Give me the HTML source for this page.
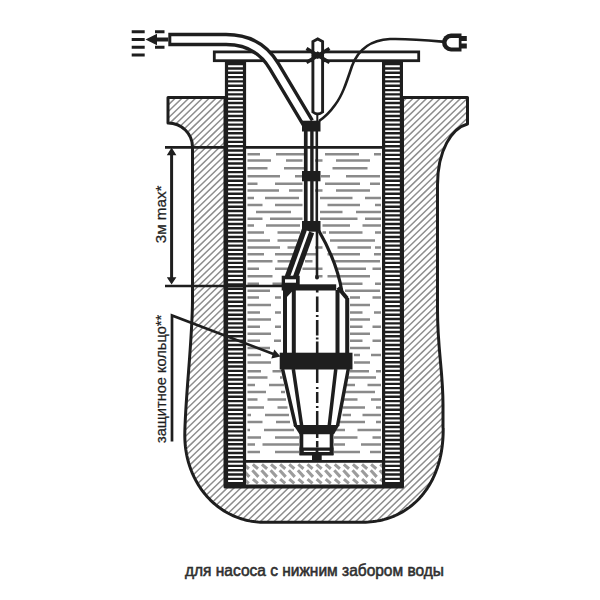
<!DOCTYPE html><html><head><meta charset="utf-8"><style>html,body{margin:0;padding:0;background:#fff;width:600px;height:600px;overflow:hidden}svg{display:block}</style></head><body>
<svg width="600" height="600" viewBox="0 0 600 600">
<rect width="600" height="600" fill="#fff"/>
<defs>
<clipPath id="shc"><path d="M168,97.5 L225,97.5 L225,487 L402.5,487 L402.5,97.5 L467.5,97.5 L467.5,124 C452,128 437.5,150 437.5,185 L437.5,310 C437.5,350 443,370 443,405 L443,428 L443.20,428.00 L443.17,431.44 L443.10,434.45 L442.97,437.32 L442.79,440.10 L442.55,442.81 L442.27,445.46 L441.93,448.06 L441.55,450.62 L441.11,453.13 L440.62,455.60 L440.08,458.03 L439.49,460.42 L438.85,462.78 L438.16,465.10 L437.42,467.38 L436.63,469.62 L435.80,471.83 L434.91,474.00 L433.98,476.13 L433.00,478.22 L431.98,480.27 L430.90,482.28 L429.78,484.24 L428.62,486.17 L427.41,488.06 L426.16,489.90 L424.86,491.69 L423.52,493.45 L422.14,495.15 L420.71,496.81 L419.25,498.43 L417.74,500.00 L416.20,501.51 L414.61,502.98 L412.99,504.40 L411.32,505.77 L409.62,507.09 L407.89,508.36 L406.11,509.58 L404.31,510.74 L402.46,511.85 L400.58,512.91 L398.67,513.91 L396.72,514.86 L394.74,515.75 L392.73,516.59 L390.69,517.37 L388.61,518.09 L386.49,518.76 L384.35,519.37 L382.17,519.93 L379.95,520.42 L377.70,520.86 L375.41,521.24 L373.07,521.57 L370.68,521.83 L368.23,522.04 L365.69,522.18 L363.03,522.27 L360.00,522.30 L264.8,522.3 L264.80,522.30 L262.51,522.27 L260.30,522.18 L258.12,522.04 L255.96,521.83 L253.83,521.57 L251.71,521.25 L249.60,520.87 L247.52,520.44 L245.45,519.95 L243.40,519.40 L241.37,518.79 L239.36,518.13 L237.37,517.41 L235.40,516.64 L233.46,515.81 L231.54,514.93 L229.64,513.99 L227.77,513.00 L225.93,511.96 L224.12,510.87 L222.33,509.73 L220.58,508.53 L218.85,507.29 L217.16,505.99 L215.51,504.65 L213.88,503.26 L212.29,501.83 L210.74,500.35 L209.23,498.82 L207.75,497.25 L206.31,495.64 L204.92,493.99 L203.56,492.30 L202.24,490.56 L200.97,488.79 L199.74,486.98 L198.56,485.14 L197.42,483.26 L196.32,481.34 L195.27,479.39 L194.27,477.41 L193.32,475.40 L192.41,473.36 L191.56,471.30 L190.75,469.20 L189.99,467.08 L189.28,464.93 L188.62,462.76 L188.02,460.57 L187.46,458.35 L186.96,456.12 L186.51,453.86 L186.11,451.58 L185.76,449.29 L185.47,446.98 L185.23,444.64 L185.04,442.29 L184.91,439.91 L184.83,437.50 L184.80,435.00 C185,400 192.5,340 192.5,300 L192.5,147 A24.5,24 0 0 0 168,123 Z"/></clipPath>
<clipPath id="grc"><rect x="246" y="462.5" width="136" height="22.5"/></clipPath>
</defs>
<g clip-path="url(#shc)"><path d="M-800.0,600 L-178.7,0 M-793.2,600 L-171.9,0 M-786.4,600 L-165.1,0 M-779.6,600 L-158.3,0 M-772.8,600 L-151.5,0 M-766.0,600 L-144.7,0 M-759.2,600 L-137.9,0 M-752.4,600 L-131.1,0 M-745.6,600 L-124.3,0 M-738.8,600 L-117.5,0 M-732.0,600 L-110.7,0 M-725.2,600 L-103.9,0 M-718.4,600 L-97.1,0 M-711.6,600 L-90.3,0 M-704.8,600 L-83.5,0 M-698.0,600 L-76.7,0 M-691.2,600 L-69.9,0 M-684.4,600 L-63.1,0 M-677.6,600 L-56.3,0 M-670.8,600 L-49.5,0 M-664.0,600 L-42.7,0 M-657.2,600 L-35.9,0 M-650.4,600 L-29.1,0 M-643.6,600 L-22.3,0 M-636.8,600 L-15.5,0 M-630.0,600 L-8.7,0 M-623.2,600 L-1.9,0 M-616.4,600 L4.9,0 M-609.6,600 L11.7,0 M-602.8,600 L18.5,0 M-596.0,600 L25.3,0 M-589.2,600 L32.1,0 M-582.4,600 L38.9,0 M-575.6,600 L45.7,0 M-568.8,600 L52.5,0 M-562.0,600 L59.3,0 M-555.2,600 L66.1,0 M-548.4,600 L72.9,0 M-541.6,600 L79.7,0 M-534.8,600 L86.5,0 M-528.0,600 L93.3,0 M-521.2,600 L100.1,0 M-514.4,600 L106.9,0 M-507.6,600 L113.7,0 M-500.8,600 L120.5,0 M-494.0,600 L127.3,0 M-487.2,600 L134.1,0 M-480.4,600 L140.9,0 M-473.6,600 L147.7,0 M-466.8,600 L154.5,0 M-460.0,600 L161.3,0 M-453.2,600 L168.1,0 M-446.4,600 L174.9,0 M-439.6,600 L181.7,0 M-432.8,600 L188.5,0 M-426.0,600 L195.3,0 M-419.2,600 L202.1,0 M-412.4,600 L208.9,0 M-405.6,600 L215.7,0 M-398.8,600 L222.5,0 M-392.0,600 L229.3,0 M-385.2,600 L236.1,0 M-378.4,600 L242.9,0 M-371.6,600 L249.7,0 M-364.8,600 L256.5,0 M-358.0,600 L263.3,0 M-351.2,600 L270.1,0 M-344.4,600 L276.9,0 M-337.6,600 L283.7,0 M-330.8,600 L290.5,0 M-324.0,600 L297.3,0 M-317.2,600 L304.1,0 M-310.4,600 L310.9,0 M-303.6,600 L317.7,0 M-296.8,600 L324.5,0 M-290.0,600 L331.3,0 M-283.2,600 L338.1,0 M-276.4,600 L344.9,0 M-269.6,600 L351.7,0 M-262.8,600 L358.5,0 M-256.0,600 L365.3,0 M-249.2,600 L372.1,0 M-242.4,600 L378.9,0 M-235.6,600 L385.7,0 M-228.8,600 L392.5,0 M-222.0,600 L399.3,0 M-215.2,600 L406.1,0 M-208.4,600 L412.9,0 M-201.6,600 L419.7,0 M-194.8,600 L426.5,0 M-188.0,600 L433.3,0 M-181.2,600 L440.1,0 M-174.4,600 L446.9,0 M-167.6,600 L453.7,0 M-160.8,600 L460.5,0 M-154.0,600 L467.3,0 M-147.2,600 L474.1,0 M-140.4,600 L480.9,0 M-133.6,600 L487.7,0 M-126.8,600 L494.5,0 M-120.0,600 L501.3,0 M-113.2,600 L508.1,0 M-106.4,600 L514.9,0 M-99.6,600 L521.7,0 M-92.8,600 L528.5,0 M-86.0,600 L535.3,0 M-79.2,600 L542.1,0 M-72.4,600 L548.9,0 M-65.6,600 L555.7,0 M-58.8,600 L562.5,0 M-52.0,600 L569.3,0 M-45.2,600 L576.1,0 M-38.4,600 L582.9,0 M-31.6,600 L589.7,0 M-24.8,600 L596.5,0 M-18.0,600 L603.3,0 M-11.2,600 L610.1,0 M-4.4,600 L616.9,0 M2.4,600 L623.7,0 M9.2,600 L630.5,0 M16.0,600 L637.3,0 M22.8,600 L644.1,0 M29.6,600 L650.9,0 M36.4,600 L657.7,0 M43.2,600 L664.5,0 M50.0,600 L671.3,0 M56.8,600 L678.1,0 M63.6,600 L684.9,0 M70.4,600 L691.7,0 M77.2,600 L698.5,0 M84.0,600 L705.3,0 M90.8,600 L712.1,0 M97.6,600 L718.9,0 M104.4,600 L725.7,0 M111.2,600 L732.5,0 M118.0,600 L739.3,0 M124.8,600 L746.1,0 M131.6,600 L752.9,0 M138.4,600 L759.7,0 M145.2,600 L766.5,0 M152.0,600 L773.3,0 M158.8,600 L780.1,0 M165.6,600 L786.9,0 M172.4,600 L793.7,0 M179.2,600 L800.5,0 M186.0,600 L807.3,0 M192.8,600 L814.1,0 M199.6,600 L820.9,0 M206.4,600 L827.7,0 M213.2,600 L834.5,0 M220.0,600 L841.3,0 M226.8,600 L848.1,0 M233.6,600 L854.9,0 M240.4,600 L861.7,0 M247.2,600 L868.5,0 M254.0,600 L875.3,0 M260.8,600 L882.1,0 M267.6,600 L888.9,0 M274.4,600 L895.7,0 M281.2,600 L902.5,0 M288.0,600 L909.3,0 M294.8,600 L916.1,0 M301.6,600 L922.9,0 M308.4,600 L929.7,0 M315.2,600 L936.5,0 M322.0,600 L943.3,0 M328.8,600 L950.1,0 M335.6,600 L956.9,0 M342.4,600 L963.7,0 M349.2,600 L970.5,0 M356.0,600 L977.3,0 M362.8,600 L984.1,0 M369.6,600 L990.9,0 M376.4,600 L997.7,0 M383.2,600 L1004.5,0 M390.0,600 L1011.3,0 M396.8,600 L1018.1,0 M403.6,600 L1024.9,0 M410.4,600 L1031.7,0 M417.2,600 L1038.5,0 M424.0,600 L1045.3,0 M430.8,600 L1052.1,0 M437.6,600 L1058.9,0 M444.4,600 L1065.7,0 M451.2,600 L1072.5,0 M458.0,600 L1079.3,0 M464.8,600 L1086.1,0 M471.6,600 L1092.9,0 M478.4,600 L1099.7,0 M485.2,600 L1106.5,0 M492.0,600 L1113.3,0 M498.8,600 L1120.1,0 M505.6,600 L1126.9,0 M512.4,600 L1133.7,0 M519.2,600 L1140.5,0 M526.0,600 L1147.3,0 M532.8,600 L1154.1,0 M539.6,600 L1160.9,0 M546.4,600 L1167.7,0 M553.2,600 L1174.5,0 M560.0,600 L1181.3,0 M566.8,600 L1188.1,0 M573.6,600 L1194.9,0 M580.4,600 L1201.7,0 M587.2,600 L1208.5,0 M594.0,600 L1215.3,0 M600.8,600 L1222.1,0 M607.6,600 L1228.9,0 M614.4,600 L1235.7,0 M621.2,600 L1242.5,0 M628.0,600 L1249.3,0 M634.8,600 L1256.1,0 M641.6,600 L1262.9,0 M648.4,600 L1269.7,0 M655.2,600 L1276.5,0 M662.0,600 L1283.3,0 M668.8,600 L1290.1,0 M675.6,600 L1296.9,0 M682.4,600 L1303.7,0 M689.2,600 L1310.5,0 M696.0,600 L1317.3,0 M702.8,600 L1324.1,0 M709.6,600 L1330.9,0 M716.4,600 L1337.7,0 M723.2,600 L1344.5,0 M730.0,600 L1351.3,0 M736.8,600 L1358.1,0 M743.6,600 L1364.9,0 M750.4,600 L1371.7,0 M757.2,600 L1378.5,0 M764.0,600 L1385.3,0 M770.8,600 L1392.1,0 M777.6,600 L1398.9,0 M784.4,600 L1405.7,0 M791.2,600 L1412.5,0 M798.0,600 L1419.3,0 M804.8,600 L1426.1,0 M811.6,600 L1432.9,0 M818.4,600 L1439.7,0 M825.2,600 L1446.5,0 M832.0,600 L1453.3,0 M838.8,600 L1460.1,0 M845.6,600 L1466.9,0 M852.4,600 L1473.7,0 M859.2,600 L1480.5,0 M866.0,600 L1487.3,0 M872.8,600 L1494.1,0 M879.6,600 L1500.9,0 M886.4,600 L1507.7,0 M893.2,600 L1514.5,0 M900.0,600 L1521.3,0 M906.8,600 L1528.1,0 M913.6,600 L1534.9,0 M920.4,600 L1541.7,0 M927.2,600 L1548.5,0 M934.0,600 L1555.3,0 M940.8,600 L1562.1,0 M947.6,600 L1568.9,0 M954.4,600 L1575.7,0 M961.2,600 L1582.5,0 M968.0,600 L1589.3,0 M974.8,600 L1596.1,0 M981.6,600 L1602.9,0 M988.4,600 L1609.7,0 M995.2,600 L1616.5,0 M1002.0,600 L1623.3,0 M1008.8,600 L1630.1,0 M1015.6,600 L1636.9,0 M1022.4,600 L1643.7,0 M1029.2,600 L1650.5,0 M1036.0,600 L1657.3,0 M1042.8,600 L1664.1,0 M1049.6,600 L1670.9,0 M1056.4,600 L1677.7,0 M1063.2,600 L1684.5,0 M1070.0,600 L1691.3,0 M1076.8,600 L1698.1,0 M1083.6,600 L1704.9,0 M1090.4,600 L1711.7,0 M1097.2,600 L1718.5,0" stroke="#8e8e8e" stroke-width="1.5"/></g>
<path d="M168,97.5 L225,97.5 L225,487 L402.5,487 L402.5,97.5 L467.5,97.5 L467.5,124 C452,128 437.5,150 437.5,185 L437.5,310 C437.5,350 443,370 443,405 L443,428 L443.20,428.00 L443.17,431.44 L443.10,434.45 L442.97,437.32 L442.79,440.10 L442.55,442.81 L442.27,445.46 L441.93,448.06 L441.55,450.62 L441.11,453.13 L440.62,455.60 L440.08,458.03 L439.49,460.42 L438.85,462.78 L438.16,465.10 L437.42,467.38 L436.63,469.62 L435.80,471.83 L434.91,474.00 L433.98,476.13 L433.00,478.22 L431.98,480.27 L430.90,482.28 L429.78,484.24 L428.62,486.17 L427.41,488.06 L426.16,489.90 L424.86,491.69 L423.52,493.45 L422.14,495.15 L420.71,496.81 L419.25,498.43 L417.74,500.00 L416.20,501.51 L414.61,502.98 L412.99,504.40 L411.32,505.77 L409.62,507.09 L407.89,508.36 L406.11,509.58 L404.31,510.74 L402.46,511.85 L400.58,512.91 L398.67,513.91 L396.72,514.86 L394.74,515.75 L392.73,516.59 L390.69,517.37 L388.61,518.09 L386.49,518.76 L384.35,519.37 L382.17,519.93 L379.95,520.42 L377.70,520.86 L375.41,521.24 L373.07,521.57 L370.68,521.83 L368.23,522.04 L365.69,522.18 L363.03,522.27 L360.00,522.30 L264.8,522.3 L264.80,522.30 L262.51,522.27 L260.30,522.18 L258.12,522.04 L255.96,521.83 L253.83,521.57 L251.71,521.25 L249.60,520.87 L247.52,520.44 L245.45,519.95 L243.40,519.40 L241.37,518.79 L239.36,518.13 L237.37,517.41 L235.40,516.64 L233.46,515.81 L231.54,514.93 L229.64,513.99 L227.77,513.00 L225.93,511.96 L224.12,510.87 L222.33,509.73 L220.58,508.53 L218.85,507.29 L217.16,505.99 L215.51,504.65 L213.88,503.26 L212.29,501.83 L210.74,500.35 L209.23,498.82 L207.75,497.25 L206.31,495.64 L204.92,493.99 L203.56,492.30 L202.24,490.56 L200.97,488.79 L199.74,486.98 L198.56,485.14 L197.42,483.26 L196.32,481.34 L195.27,479.39 L194.27,477.41 L193.32,475.40 L192.41,473.36 L191.56,471.30 L190.75,469.20 L189.99,467.08 L189.28,464.93 L188.62,462.76 L188.02,460.57 L187.46,458.35 L186.96,456.12 L186.51,453.86 L186.11,451.58 L185.76,449.29 L185.47,446.98 L185.23,444.64 L185.04,442.29 L184.91,439.91 L184.83,437.50 L184.80,435.00 C185,400 192.5,340 192.5,300 L192.5,147 A24.5,24 0 0 0 168,123 Z" fill="none" stroke="#1e1e1e" stroke-width="3" stroke-linejoin="round"/>
<path d="M247.5,154.3 H260 M276,154.3 H304 M325,154.3 H359 M374,154.3 H381 M247.5,160.5 H271 M286,160.5 H302.5 M315,160.5 H322.5 M336,160.5 H370 M247.5,168.3 H267.5 M284,168.3 H304 M332.5,168.3 H367.5 M247.5,176.3 H280 M295,176.3 H302.5 M321,176.3 H330 M346,176.3 H380 M247.5,183.8 H257.5 M275,183.8 H302.5 M325,183.8 H360 M370,183.8 H380 M247.5,190.5 H279 M289,190.5 H302.5 M315,190.5 H322.5 M336,190.5 H370 M247.5,198 H254 M265,198 H299 M320,198 H352.5 M365,198 H381 M247.5,205 H262.5 M275,205 H302.5 M327.5,205 H360 M375,205 H381 M256,212 H291 M320,212 H342.5 M356,212 H381 M247.5,218.8 H262.5 M270,218.8 H302.5 M320,218.8 H357.5 M365,218.8 H381 M247.5,225.5 H254 M266,225.5 H300 M322.5,225.5 H350 M362.5,225.5 H381 M247.5,232.5 H264 M277.5,232.5 H300 M322.5,232.5 H326 M329,232.5 H362.5 M375,232.5 H381 M247.5,240.5 H270 M277.5,240.5 H297.5 M330,240.5 H375 M247.5,247.5 H280 M287.5,247.5 H296 M315,247.5 H322.5 M337.5,247.5 H371 M375,247.5 H381 M247.5,254.3 H264 M275,254.3 H294 M304,254.3 H317.5 M327.5,254.3 H360 M374,254.3 H381 M247.5,261.3 H272.5 M277.5,261.3 H294 M305,261.3 H312.5 M335,261.3 H380 M247.5,268.8 H259 M275,268.8 H290 M302.5,268.8 H322.5 M336,268.8 H366 M372.5,268.8 H381 M247.5,276.3 H272.5 M315,276.3 H322.5 M327.5,276.3 H370 M247.5,283.8 H259 M272.5,283.8 H282.5 M339,283.8 H362.5 M375,283.8 H381 M247.5,290.8 H270 M345,290.8 H380 M247.5,297.5 H259 M275,297.5 H281 M350,297.5 H360 M372.5,297.5 H381 M247.5,305 H271 M350,305 H370 M247.5,312.5 H260 M275,312.5 H281 M350,312.5 H362.5 M374,312.5 H381 M247.5,319.5 H271 M350,319.5 H370 M247.5,326.75 H260 M275,326.75 H281 M350,326.75 H362.5 M372.5,326.75 H381 M247.5,333.75 H271 M350,333.75 H370 M247.5,340.75 H260 M274,340.75 H281 M350,340.75 H362.5 M372.5,340.75 H381 M247.5,348 H270 M350,348 H370 M247.5,355 H261 M354,355 H360 M371,355 H381 M247.5,362.5 H271 M354,362.5 H370 M247.5,371.25 H261 M272.5,371.25 H281 M350,371.25 H369 M376,371.25 H381 M247.5,377.5 H267.5 M280,377.5 H282.5 M347.5,377.5 H376 M247.5,385 H255 M269,385 H284 M346,385 H355 M367.5,385 H381 M247.5,392 H266 M281,392 H285 M345,392 H375 M247.5,399.5 H257.5 M267.5,399.5 H286 M344,399.5 H357.5 M371,399.5 H381 M247.5,407.5 H264 M277.5,407.5 H287.5 M342.5,407.5 H365 M376,407.5 H381 M247.5,415 H251 M265,415 H289 M342.5,415 H351 M362.5,415 H381 M247.5,422 H262.5 M276,422 H290 M340,422 H365 M376,422 H381 M247.5,430 H250 M264,430 H294 M336,430 H345 M357.5,430 H381 M247.5,437.5 H261 M275,437.5 H299 M331,437.5 H357.5 M372.5,437.5 H381 M247.5,444.5 H255 M262.5,444.5 H299 M331,444.5 H345 M361,444.5 H381 M247.5,452 H260 M275,452 H299 M331,452 H360 M370,452 H381" stroke="#8a8a8a" stroke-width="2.6"/>
<rect x="224.9" y="62" width="21.2" height="425.5" fill="#1e1e1e"/>
<path d="M228.1,66.30 H242.9 M228.1,70.62 H242.9 M228.1,74.94 H242.9 M228.1,79.26 H242.9 M228.1,83.58 H242.9 M228.1,87.90 H242.9 M228.1,92.22 H242.9 M228.1,96.54 H242.9 M228.1,100.86 H242.9 M228.1,105.18 H242.9 M228.1,109.50 H242.9 M228.1,113.82 H242.9 M228.1,118.14 H242.9 M228.1,122.46 H242.9 M228.1,126.78 H242.9 M228.1,131.10 H242.9 M228.1,135.42 H242.9 M228.1,139.74 H242.9 M228.1,144.06 H242.9 M228.1,148.38 H242.9 M228.1,152.70 H242.9 M228.1,157.02 H242.9 M228.1,161.34 H242.9 M228.1,165.66 H242.9 M228.1,169.98 H242.9 M228.1,174.30 H242.9 M228.1,178.62 H242.9 M228.1,182.94 H242.9 M228.1,187.26 H242.9 M228.1,191.58 H242.9 M228.1,195.90 H242.9 M228.1,200.22 H242.9 M228.1,204.54 H242.9 M228.1,208.86 H242.9 M228.1,213.18 H242.9 M228.1,217.50 H242.9 M228.1,221.82 H242.9 M228.1,226.14 H242.9 M228.1,230.46 H242.9 M228.1,234.78 H242.9 M228.1,239.10 H242.9 M228.1,243.42 H242.9 M228.1,247.74 H242.9 M228.1,252.06 H242.9 M228.1,256.38 H242.9 M228.1,260.70 H242.9 M228.1,265.02 H242.9 M228.1,269.34 H242.9 M228.1,273.66 H242.9 M228.1,277.98 H242.9 M228.1,282.30 H242.9 M228.1,286.62 H242.9 M228.1,290.94 H242.9 M228.1,295.26 H242.9 M228.1,299.58 H242.9 M228.1,303.90 H242.9 M228.1,308.22 H242.9 M228.1,312.54 H242.9 M228.1,316.86 H242.9 M228.1,321.18 H242.9 M228.1,325.50 H242.9 M228.1,329.82 H242.9 M228.1,334.14 H242.9 M228.1,338.46 H242.9 M228.1,342.78 H242.9 M228.1,347.10 H242.9 M228.1,351.42 H242.9 M228.1,355.74 H242.9 M228.1,360.06 H242.9 M228.1,364.38 H242.9 M228.1,368.70 H242.9 M228.1,373.02 H242.9 M228.1,377.34 H242.9 M228.1,381.66 H242.9 M228.1,385.98 H242.9 M228.1,390.30 H242.9 M228.1,394.62 H242.9 M228.1,398.94 H242.9 M228.1,403.26 H242.9 M228.1,407.58 H242.9 M228.1,411.90 H242.9 M228.1,416.22 H242.9 M228.1,420.54 H242.9 M228.1,424.86 H242.9 M228.1,429.18 H242.9 M228.1,433.50 H242.9 M228.1,437.82 H242.9 M228.1,442.14 H242.9 M228.1,446.46 H242.9 M228.1,450.78 H242.9 M228.1,455.10 H242.9 M228.1,459.42 H242.9 M228.1,463.74 H242.9 M228.1,468.06 H242.9 M228.1,472.38 H242.9 M228.1,476.70 H242.9 M228.1,481.02 H242.9" stroke="#fff" stroke-width="1.95"/>
<rect x="382" y="62" width="21.0" height="425.5" fill="#1e1e1e"/>
<path d="M385.2,66.30 H399.8 M385.2,70.62 H399.8 M385.2,74.94 H399.8 M385.2,79.26 H399.8 M385.2,83.58 H399.8 M385.2,87.90 H399.8 M385.2,92.22 H399.8 M385.2,96.54 H399.8 M385.2,100.86 H399.8 M385.2,105.18 H399.8 M385.2,109.50 H399.8 M385.2,113.82 H399.8 M385.2,118.14 H399.8 M385.2,122.46 H399.8 M385.2,126.78 H399.8 M385.2,131.10 H399.8 M385.2,135.42 H399.8 M385.2,139.74 H399.8 M385.2,144.06 H399.8 M385.2,148.38 H399.8 M385.2,152.70 H399.8 M385.2,157.02 H399.8 M385.2,161.34 H399.8 M385.2,165.66 H399.8 M385.2,169.98 H399.8 M385.2,174.30 H399.8 M385.2,178.62 H399.8 M385.2,182.94 H399.8 M385.2,187.26 H399.8 M385.2,191.58 H399.8 M385.2,195.90 H399.8 M385.2,200.22 H399.8 M385.2,204.54 H399.8 M385.2,208.86 H399.8 M385.2,213.18 H399.8 M385.2,217.50 H399.8 M385.2,221.82 H399.8 M385.2,226.14 H399.8 M385.2,230.46 H399.8 M385.2,234.78 H399.8 M385.2,239.10 H399.8 M385.2,243.42 H399.8 M385.2,247.74 H399.8 M385.2,252.06 H399.8 M385.2,256.38 H399.8 M385.2,260.70 H399.8 M385.2,265.02 H399.8 M385.2,269.34 H399.8 M385.2,273.66 H399.8 M385.2,277.98 H399.8 M385.2,282.30 H399.8 M385.2,286.62 H399.8 M385.2,290.94 H399.8 M385.2,295.26 H399.8 M385.2,299.58 H399.8 M385.2,303.90 H399.8 M385.2,308.22 H399.8 M385.2,312.54 H399.8 M385.2,316.86 H399.8 M385.2,321.18 H399.8 M385.2,325.50 H399.8 M385.2,329.82 H399.8 M385.2,334.14 H399.8 M385.2,338.46 H399.8 M385.2,342.78 H399.8 M385.2,347.10 H399.8 M385.2,351.42 H399.8 M385.2,355.74 H399.8 M385.2,360.06 H399.8 M385.2,364.38 H399.8 M385.2,368.70 H399.8 M385.2,373.02 H399.8 M385.2,377.34 H399.8 M385.2,381.66 H399.8 M385.2,385.98 H399.8 M385.2,390.30 H399.8 M385.2,394.62 H399.8 M385.2,398.94 H399.8 M385.2,403.26 H399.8 M385.2,407.58 H399.8 M385.2,411.90 H399.8 M385.2,416.22 H399.8 M385.2,420.54 H399.8 M385.2,424.86 H399.8 M385.2,429.18 H399.8 M385.2,433.50 H399.8 M385.2,437.82 H399.8 M385.2,442.14 H399.8 M385.2,446.46 H399.8 M385.2,450.78 H399.8 M385.2,455.10 H399.8 M385.2,459.42 H399.8 M385.2,463.74 H399.8 M385.2,468.06 H399.8 M385.2,472.38 H399.8 M385.2,476.70 H399.8 M385.2,481.02 H399.8" stroke="#fff" stroke-width="1.95"/>
<path d="M165,147.3 H225 M246,147.3 H382" stroke="#1e1e1e" stroke-width="2.7"/>
<g clip-path="url(#grc)"><path d="M225.5,464.4 l5.2,4.4 M225.1,470.3 l6,6.6 M225.6,479.1 l5,4.3 M234.6,464.4 l5.2,4.4 M234.2,470.3 l6,6.6 M234.7,479.1 l5,4.3 M243.7,464.4 l5.2,4.4 M243.3,470.3 l6,6.6 M243.8,479.1 l5,4.3 M252.8,464.4 l5.2,4.4 M252.4,470.3 l6,6.6 M252.9,479.1 l5,4.3 M261.9,464.4 l5.2,4.4 M261.5,470.3 l6,6.6 M262.0,479.1 l5,4.3 M271.0,464.4 l5.2,4.4 M270.6,470.3 l6,6.6 M271.1,479.1 l5,4.3 M280.1,464.4 l5.2,4.4 M279.7,470.3 l6,6.6 M280.2,479.1 l5,4.3 M289.2,464.4 l5.2,4.4 M288.8,470.3 l6,6.6 M289.3,479.1 l5,4.3 M298.3,464.4 l5.2,4.4 M297.9,470.3 l6,6.6 M298.4,479.1 l5,4.3 M307.4,464.4 l5.2,4.4 M307.0,470.3 l6,6.6 M307.5,479.1 l5,4.3 M316.5,464.4 l5.2,4.4 M316.1,470.3 l6,6.6 M316.6,479.1 l5,4.3 M325.6,464.4 l5.2,4.4 M325.2,470.3 l6,6.6 M325.7,479.1 l5,4.3 M334.7,464.4 l5.2,4.4 M334.3,470.3 l6,6.6 M334.8,479.1 l5,4.3 M343.8,464.4 l5.2,4.4 M343.4,470.3 l6,6.6 M343.9,479.1 l5,4.3 M352.9,464.4 l5.2,4.4 M352.5,470.3 l6,6.6 M353.0,479.1 l5,4.3 M362.0,464.4 l5.2,4.4 M361.6,470.3 l6,6.6 M362.1,479.1 l5,4.3 M371.1,464.4 l5.2,4.4 M370.7,470.3 l6,6.6 M371.2,479.1 l5,4.3 M380.2,464.4 l5.2,4.4 M379.8,470.3 l6,6.6 M380.3,479.1 l5,4.3 M389.3,464.4 l5.2,4.4 M388.9,470.3 l6,6.6 M389.4,479.1 l5,4.3 M398.4,464.4 l5.2,4.4 M398.0,470.3 l6,6.6 M398.5,479.1 l5,4.3" stroke="#9c9c9c" stroke-width="3.1"/></g>
<path d="M246,461.4 H382 M246,486 H382" stroke="#1e1e1e" stroke-width="2.8"/>
<rect x="214.3" y="51.9" width="204.4" height="8.8" fill="#fff" stroke="#1e1e1e" stroke-width="2.8"/>
<path d="M168.3,39.5 L226,39.5 Q258.2,39.5 274,66 L308,123" fill="none" stroke="#1e1e1e" stroke-width="13.4"/>
<path d="M171.3,39.5 L226,39.5 Q258.2,39.5 274,66 L308,123" fill="none" stroke="#fff" stroke-width="6.6"/>
<path d="M131.7,31.7 h13 M131.7,39.5 h13 M131.7,47.2 h13 M131.7,55 h13 M155,31.7 h9.5 M155,47.2 h9.5" stroke="#1e1e1e" stroke-width="3"/>
<path d="M145.5,39.5 L157,33.8 L157,37.5 L168.3,37.5 L168.3,41.5 L157,41.5 L157,45.2 Z" fill="#1e1e1e"/>
<path d="M444,41.8 C425,40 410,38.5 390,39 C370,40 358,50 352,66 C346,84 342,96 335,105 C330,112 325,117 319,121" fill="none" stroke="#1e1e1e" stroke-width="2.6"/>
<path d="M461.5,33.5 H451 A9,9 0 0 0 451,51.5 H461.5 Z" fill="#1e1e1e"/>
<path d="M458.8,38 H451.3 A4.75,4.75 0 0 0 451.3,47.5 H458.8 Z" fill="#fff"/>
<rect x="461" y="36" width="5.8" height="5" fill="#1e1e1e"/><rect x="461" y="43.5" width="5.8" height="5" fill="#1e1e1e"/>
<path d="M312.9,112 V41.6 L317.7,38.9 L322.6,41.6 V112 Q317.7,116 312.9,112 Z" fill="#fff" stroke="#1e1e1e" stroke-width="2.9"/>
<path d="M317.3,115 V121" stroke="#1e1e1e" stroke-width="2"/>
<path d="M306.5,48.5 L329.5,62.5 M329.5,48.5 L306.5,62.5" stroke="#1e1e1e" stroke-width="3.6"/>
<path d="M311.5,55.5 L317.7,51.2 L324,55.5 L317.7,59 Z" fill="#1e1e1e"/>
<rect x="302" y="120.7" width="18.5" height="10.8" fill="#1e1e1e"/>
<rect x="302" y="171" width="18.5" height="10.3" fill="#1e1e1e"/>
<rect x="302" y="221" width="18.5" height="10.7" fill="#1e1e1e"/>
<path d="M305.75,131 V221" stroke="#1e1e1e" stroke-width="3.7"/><path d="M311.9,131 V221" stroke="#1e1e1e" stroke-width="3.4"/><path d="M316.8,131 V221" stroke="#1e1e1e" stroke-width="2.6"/>
<path d="M308,231 L291,278" stroke="#1e1e1e" stroke-width="13"/>
<path d="M308,231 L291,278" stroke="#fff" stroke-width="2.5"/>
<path d="M317,231 V277" stroke="#1e1e1e" stroke-width="2.6"/>
<circle cx="317" cy="277.5" r="2" fill="#1e1e1e"/>
<path d="M319,231 C330,250 338,268 342,292" fill="none" stroke="#1e1e1e" stroke-width="3.2"/>
<path d="M165,286 H282" stroke="#1e1e1e" stroke-width="2.4"/>
<path d="M283,290 H340 L348,298.5 V353 H283 Z" fill="#fff"/>
<rect x="281.7" y="284.3" width="54.5" height="6.2" fill="#1e1e1e"/>
<path d="M285,289 V353 M293.8,290 V353 M337.5,290 V353 M347.2,298 V353 M338,287.5 L347.2,298.5" stroke="#1e1e1e" stroke-width="4" fill="none"/>
<path d="M286,289.5 L294,289.5 L286,298 Z" fill="#1e1e1e"/>
<rect x="281.7" y="275.7" width="18" height="10" fill="#1e1e1e"/><rect x="285" y="279.3" width="11" height="3.4" fill="#fff"/>
<path d="M317.2,290 V292.5 M317.2,296.5 V312 M317.2,315 V317 M317.2,320 V335.5 M317.2,337.5 V339.5 M317.2,341.5 V353" stroke="#1e1e1e" stroke-width="2.6"/>
<path d="M281,369 H350 L338,426 L334,434 V455 H299.5 V434 L294,426 Z" fill="#fff"/>
<rect x="279.7" y="352.7" width="72.8" height="16.8" fill="#1e1e1e"/>
<path d="M282.5,369 L295.8,426.7 M293.3,369 L301.7,426 M335.8,369 L329.2,426 M348.3,369 L337.5,426" stroke="#1e1e1e" stroke-width="3.5" fill="none"/>
<path d="M293.5,425 H339.5 L334,434.2 H299.5 Z" fill="#1e1e1e"/>
<path d="M301.4,433 V455 M331.6,433 V455" stroke="#1e1e1e" stroke-width="3.8"/>
<rect x="299.5" y="447.5" width="34" height="8" fill="#1e1e1e"/><path d="M303.8,451.4 H315.6 M318.4,451.4 H329.6" stroke="#fff" stroke-width="1.3"/>
<path d="M317.2,369 V383 M317.2,387 V389 M317.2,392 V403 M317.2,406 V408 M317.2,411 V425 M317.2,434 V438 M317.2,441 V447.5" stroke="#1e1e1e" stroke-width="2.5"/>
<rect x="312" y="455" width="9.7" height="6" fill="#1e1e1e"/>
<path d="M171.6,152 V280" stroke="#1e1e1e" stroke-width="3"/>
<path d="M171.6,147.6 L166.8,155.2 L176.4,155.2 Z M171.6,284.6 L166.8,277.2 L176.4,277.2 Z" fill="#1e1e1e"/>
<path d="M172,441.5 V315.5 L276,355" fill="none" stroke="#1e1e1e" stroke-width="2.7" stroke-linejoin="miter"/>
<path d="M280.5,356.6 L274.3,349.6 L271.3,358.6 Z" fill="#1e1e1e"/>
<text transform="translate(165.6,243.3) rotate(-90)" font-family="Liberation Sans" font-size="15.2" fill="#1e1e1e" stroke="#1e1e1e" stroke-width="0.25">3м max*</text>
<text transform="translate(166.2,443) rotate(-90)" font-family="Liberation Sans" font-size="14.6" fill="#1e1e1e" stroke="#1e1e1e" stroke-width="0.25">защитное кольцо**</text>
<text x="185" y="576.3" font-family="Liberation Sans" font-size="16.5" textLength="259" lengthAdjust="spacingAndGlyphs" fill="#2f2f2f" stroke="#2f2f2f" stroke-width="0.6">для насоса с нижним забором воды</text>
</svg></body></html>
